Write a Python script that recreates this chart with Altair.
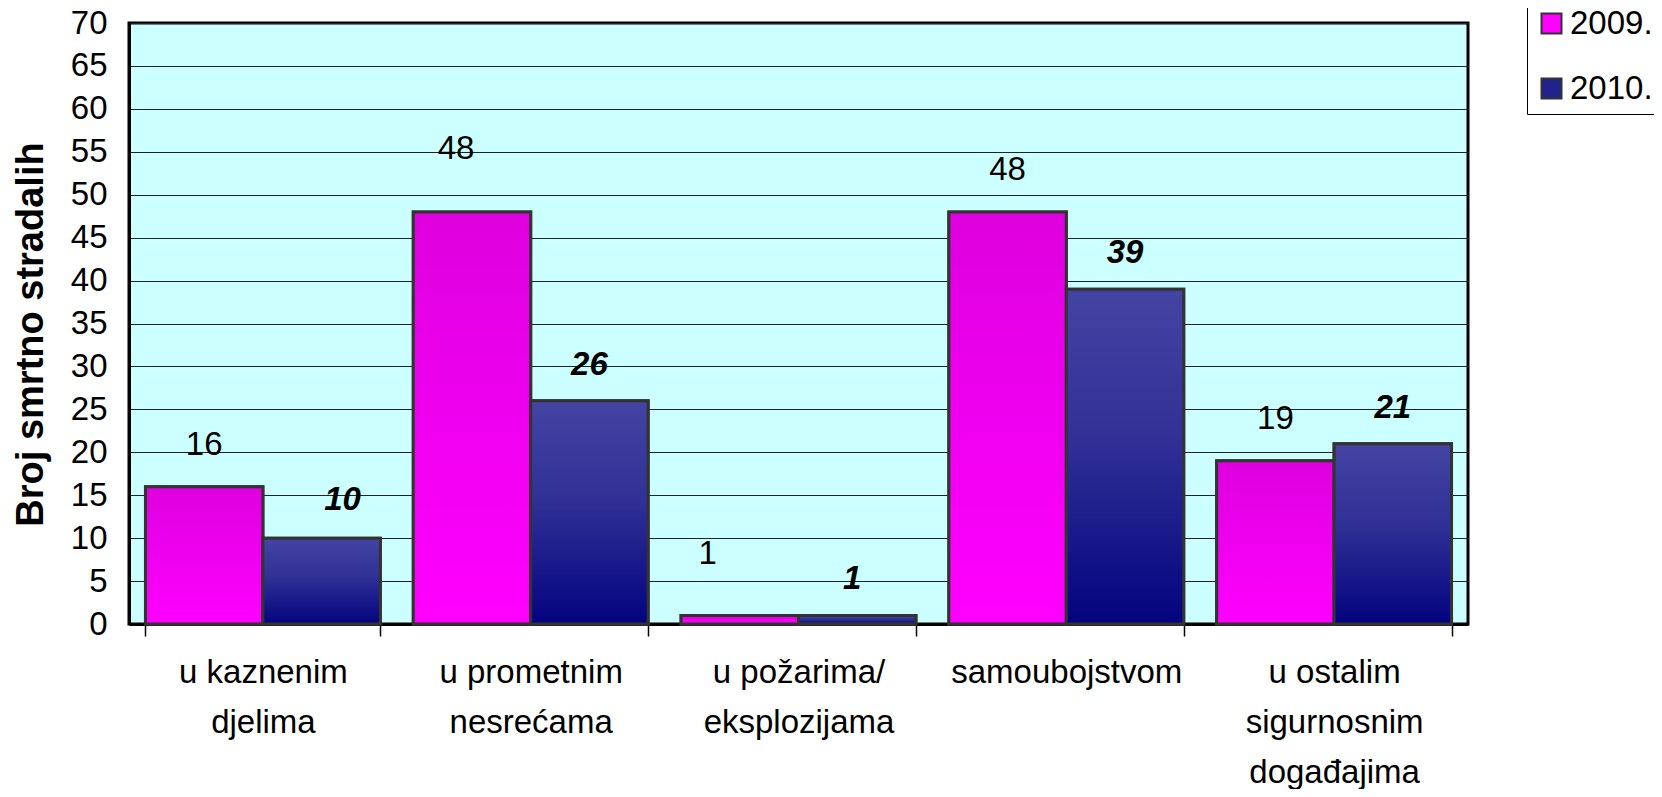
import altair as alt
import pandas as pd

categories = ["u kaznenim\ndjelima", "u prometnim\nnesrećama", "u požarima/\neksplozijama",
              "samoubojstvom", "u ostalim\nsigurnosnim\ndogađajima"]
years = ["2009.", "2010."]
values_2009 = [16, 48, 1, 48, 19]
values_2010 = [10, 26, 1, 39, 21]

rows = []
for c, v in zip(categories, values_2009):
    rows.append({"cat": c, "year": years[0], "value": v})
for c, v in zip(categories, values_2010):
    rows.append({"cat": c, "year": years[1], "value": v})
df = pd.DataFrame(rows)

FONT = "Liberation Sans"

grad_pink = {"gradient": "linear", "x1": 0, "y1": 0, "x2": 0, "y2": 1,
             "stops": [{"offset": 0, "color": "#DE00DE"}, {"offset": 1, "color": "#FF00FF"}]}
grad_blue = {"gradient": "linear", "x1": 0, "y1": 0, "x2": 0, "y2": 1,
             "stops": [{"offset": 0, "color": "#4444A4"}, {"offset": 0.45, "color": "#303096"},
                       {"offset": 1, "color": "#03037F"}]}

x_enc = alt.X("cat:N", sort=categories,
              scale=alt.Scale(paddingInner=0.123, paddingOuter=0.0615),
              axis=alt.Axis(title=None, labelAngle=0, labelFontSize=33, labelFont=FONT,
                            labelColor="black", labelLineHeight=50, labelPadding=20,
                            labelExpr="split(datum.label, '\\n')", tickBand="extent",
                            ticks=True, tickSize=12, tickColor="black", tickWidth=1.5,
                            domainColor="black", domainWidth=3, grid=False, labelLimit=400))
xo_enc = alt.XOffset("year:N", scale=alt.Scale(domain=years))
y_enc = alt.Y("value:Q", scale=alt.Scale(domain=[0, 70], nice=False),
              axis=alt.Axis(title="Broj smrtno stradalih", values=list(range(0, 71, 5)),
                            labelFontSize=33, labelFont=FONT, labelColor="black",
                            labelPadding=22, ticks=False, domainColor="black", domainWidth=3,
                            gridColor="#222222", gridWidth=1.2,
                            titleFontSize=38, titleFont=FONT, titleFontWeight="bold",
                            titleColor="black", titleAngle=270, titleX=-98, titleY=311,
                            titleAlign="center", titleBaseline="middle"))

base = alt.Chart(df).encode(x=x_enc, xOffset=xo_enc, y=y_enc)

legend_bars = base.mark_bar(stroke="#333333", strokeWidth=3).encode(
    color=alt.Color("year:N", scale=alt.Scale(domain=years, range=["#FF00FF", "#22228C"]),
                    legend=alt.Legend(title=None, orient="none", legendX=1398, legendY=-24,
                                      symbolType="square", symbolSize=400,
                                      symbolStrokeColor="#333333", symbolStrokeWidth=2,
                                      labelFontSize=33, labelFont=FONT, labelColor="black",
                                      labelOffset=2, rowPadding=31, padding=8,
                                      strokeColor="black", fillColor="white",
                                      symbolOpacity=1))
)

pink = base.transform_filter(alt.datum.year == years[0]).mark_bar(
    fill=grad_pink, stroke="#333333", strokeWidth=3)
blue = base.transform_filter(alt.datum.year == years[1]).mark_bar(
    fill=grad_blue, stroke="#333333", strokeWidth=3)

# label styles per series and manual label nudges (as placed in the original)
label_style = {
    years[0]: dict(dy=-42, fontStyle="normal", fontWeight="normal"),
    years[1]: dict(dy=-36, fontStyle="italic", fontWeight="bold"),
}
nudges = {
    (1, years[0]): (-16, -21),
    (0, years[1]): (21, -2),
    (2, years[0]): (-32, -19),
    (2, years[1]): (-5, 0),
}

text_layers = []
for yr in years:
    st = label_style[yr]
    for i, cat in enumerate(categories):
        ndx, ndy = nudges.get((i, yr), (0, 0))
        text_layers.append(
            base.transform_filter((alt.datum.year == yr) & (alt.datum.cat == cat)).mark_text(
                dx=ndx, dy=st["dy"] + ndy, fontSize=33, font=FONT, color="black",
                baseline="middle", fontStyle=st["fontStyle"], fontWeight=st["fontWeight"]
            ).encode(text="value:Q")
        )

chart = alt.layer(legend_bars, pink, blue, *text_layers).properties(
    width=1339, height=601,
    autosize=alt.AutoSizeParams(type="none"),
    padding={"left": 121, "top": 15, "right": 186, "bottom": 165},
    background="white",
).configure_view(fill="#CCFFFF", stroke="black", strokeWidth=3)

chart.save("out.html", embed_options={"renderer": "svg", "actions": False})
